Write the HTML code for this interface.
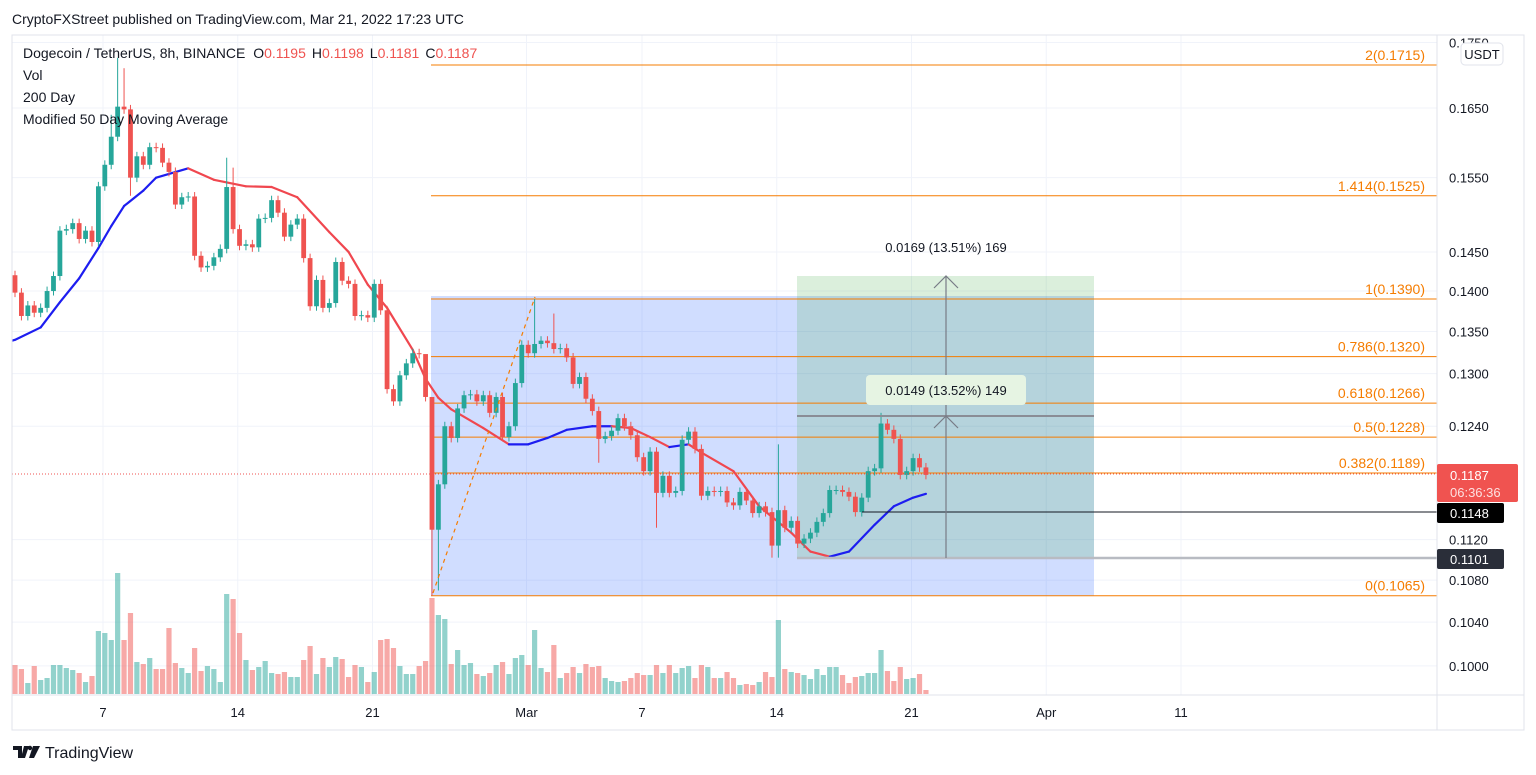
<!DOCTYPE html>
<html><head><meta charset="utf-8"><title>DOGEUSDT 8h</title>
<style>
html,body{margin:0;padding:0;background:#fff;width:1536px;height:775px;overflow:hidden}
svg{display:block;font-family:"Liberation Sans",sans-serif}
</style></head>
<body>
<svg id="chart" width="1536" height="775" viewBox="0 0 1536 775" xmlns="http://www.w3.org/2000/svg">
<rect x="0" y="0" width="1536" height="775" fill="#fff"/>
<text x="12" y="24" font-size="14" fill="#131722">CryptoFXStreet published on TradingView.com, Mar 21, 2022 17:23 UTC</text>
<g id="grid"></g>
<g id="drawings-back">
  <rect x="431" y="296" width="663" height="300" fill="#2962ff" fill-opacity="0.22"/>
  <rect x="797" y="276" width="297" height="282" fill="#4caf50" fill-opacity="0.2"/>
</g>
<g id="fib"></g>
<g id="vol"></g>
<g id="ma"></g>
<g id="candles"></g>
<g id="drawings-front">
  <line x1="433" y1="593" x2="535" y2="297" stroke="#f57c00" stroke-width="1.2" stroke-dasharray="4,4"/>
  <line x1="797" y1="416" x2="1094" y2="416" stroke="#8a8d96" stroke-width="2"/>
  <line x1="797" y1="558" x2="1437" y2="558" stroke="#b8bbc2" stroke-width="2.5"/>
  <line x1="862" y1="512" x2="1437" y2="512" stroke="#131722" stroke-width="1"/>
  <line x1="946" y1="558" x2="946" y2="276" stroke="#787b86" stroke-width="1.2"/>
  <polyline points="934,428 946,416 958,428" fill="none" stroke="#787b86" stroke-width="1.2"/>
  <polyline points="934,288 946,276 958,288" fill="none" stroke="#787b86" stroke-width="1.2"/>
  <text x="946" y="252" font-size="13" text-anchor="middle" fill="#131722">0.0169 (13.51%) 169</text>
  <rect x="866" y="375" width="160" height="30" rx="4" fill="#e6f4e3"/>
  <text x="946" y="395" font-size="13" text-anchor="middle" fill="#131722">0.0149 (13.52%) 149</text>
  <line x1="12" y1="474" x2="1437" y2="474" stroke="#ef5350" stroke-width="1" stroke-dasharray="1,2"/>
</g>
<g font-size="14" fill="#131722">
  <text x="23" y="58">Dogecoin / TetherUS, 8h, BINANCE <tspan dx="4">O</tspan><tspan fill="#ef5350">0.1195</tspan><tspan dx="6">H</tspan><tspan fill="#ef5350">0.1198</tspan><tspan dx="6">L</tspan><tspan fill="#ef5350">0.1181</tspan><tspan dx="6">C</tspan><tspan fill="#ef5350">0.1187</tspan></text>
  <text x="23" y="80">Vol</text>
  <text x="23" y="102">200 Day</text>
  <text x="23" y="124">Modified 50 Day Moving Average</text>
</g>
<g id="axes"></g>
<g>
  <path d="M13 746h9v12h-4v-8h-5z M24 746h5l-4 12h-4z" fill="#131722"/>
  <circle cx="30" cy="748" r="2.2" fill="#131722"/>
  <path d="M33 746h7l-6 12h-5z" fill="#131722"/>
  <text x="45" y="758" font-size="16" fill="#131722">TradingView</text>
</g>
</svg>
<script>
const closes = [
.1398,.1369,.1382,.1373,.1379,.1400,.1419,.1478,.1480,.1488,
.1467,.1478,.1463,.1538,.1568,.1608,.1652,.1648,.1550,.1580,
.1568,.1593,.1592,.1571,.1558,.1513,.1523,.1524,.1445,.1430,
.1432,.1443,.1454,.1537,.1480,.1458,.1460,.1456,.1494,.1495,
.1519,.1502,.1470,.1486,.1494,.1442,.1381,.1414,.1379,.1385,
.1437,.1413,.1409,.1369,.1370,.1367,.1409,.1376,.1282,.1268,
.1298,.1312,.1324,.1323,.1273,.1130,.1177,.1240,.1227,.1260,
.1275,.1276,.1268,.1275,.1255,.1273,.1228,.1240,.1289,.1334,
.1324,.1335,.1339,.1336,.1329,.1330,.1319,.1288,.1296,.1271,
.1257,.1226,.1229,.1235,.1249,.1240,.1230,.1206,.1191,.1212,
.1168,.1186,.1168,.1170,.1225,.1234,.1215,.1165,.1170,.1169,
.1170,.1158,.1155,.1169,.1160,.1147,.1154,.1148,.1114,.1150,
.1132,.1139,.1116,.1121,.1127,.1138,.1147,.1171,.1171,.1169,
.1164,.1148,.1163,.1191,.1194,.1243,.1236,.1226,.1187,.1191,
.1205,.1195,.1187];
const firstOpen = 0.1420;
const highOverrides = {15:0.1640,16:0.1726,17:0.1710,33:0.1578,34:0.1564,64:0.1300,65:0.1273,81:0.1390,84:0.1372,119:0.1220,135:0.1255};
const lowOverrides = {18:0.1525,65:0.1065,66:0.1070,91:0.1200,100:0.1132,118:0.1102,119:0.1102};
const volumes = [
29,25,11,28,14,16,29,29,26,24,21,12,18,63,61,54,121,54,81,32,
30,36,25,25,66,31,26,21,46,23,28,25,12,100,95,61,34,24,27,33,
21,20,22,17,17,34,48,20,36,27,37,35,17,29,27,12,22,54,55,46,
28,20,20,28,33,96,79,75,30,44,29,31,20,18,21,29,32,20,36,39,
29,64,26,22,49,16,21,27,21,30,27,28,16,13,12,13,16,21,19,19,
29,21,29,21,26,28,16,29,27,16,16,22,16,9,10,9,12,22,17,74,
25,22,21,19,15,25,19,27,27,19,11,17,18,21,21,44,23,13,27,15,
16,20,4];
const maIdx = [0,4,7,10,13,15,17,20,22,27,31,36,40,44,49,52,55,58,62,64,66,68,73,77,80,83,86,90,93,96,99,102,105,107,112,116,121,124,127,130,134,137,140,142];
const maVals = [.1340,.1355,.1386,.1416,.1455,.1484,.1511,.1532,.1550,.1563,.1547,.1538,.1537,.1523,.1476,.1450,.1408,.1379,.1328,.1294,.1272,.1259,.1238,.1220,.1220,.1227,.1236,.1240,.1240,.1238,.1228,.1217,.1220,.1211,.1191,.1154,.1127,.1108,.1103,.1108,.1135,.1154,.1163,.1167];
const priceTicks = [0.1750,0.1650,0.1550,0.1450,0.1400,0.1350,0.1300,0.1240,0.1120,0.1080,0.1040,0.1000];
const timeLabels = ["7","14","21","Mar","7","14","21","Apr","11"];
const timeLabelDays = [0,7,14,22,28,35,42,49,56];
const fibLevels = ["2","1.414","1","0.786","0.618","0.5","0.382","0"];
const fibPrices = [0.1715,0.1525,0.1390,0.1320,0.1266,0.1228,0.1189,0.1065];

const NS = "http://www.w3.org/2000/svg";
function yOf(p){ return 108 + Math.log(0.165/p)*1114; }
function xOf(i){ return 15 + i*6.415; }
function xDay(d){ return 103 + d*19.25; }
function mk(tag, attrs, parent){ const e=document.createElementNS(NS,tag); for(const k in attrs) e.setAttribute(k,attrs[k]); parent.appendChild(e); return e; }

const grid = document.getElementById('grid');
priceTicks.forEach(p=>{
  const l = mk('line',{x1:12,x2:1437,y1:yOf(p),y2:yOf(p),stroke:'#f0f3fa','stroke-width':1},grid);
  
  
});
timeLabelDays.forEach(d=>{
  const l = mk('line',{x1:xDay(d),x2:xDay(d),y1:35,y2:695,stroke:'#f0f3fa','stroke-width':1},grid);
  
  
});

const fib = document.getElementById('fib');
fibLevels.forEach((lv,k)=>{
  const y = yOf(fibPrices[k]);
  const l = mk('line',{x1:431,x2:1437,y1:y,y2:y,stroke:'#f57c00','stroke-width':1},fib);
  
  
  const t = mk('text',{x:1425,y:y-5,'font-size':14,'text-anchor':'end',fill:'#f57c00'},fib);
  t.textContent = lv+'('+fibPrices[k].toFixed(4)+')';
  
  
});

const opens = closes.map((c,i)=> i===0 ? firstOpen : closes[i-1]);
const vmax = Math.max(...volumes);
const vol = document.getElementById('vol');
volumes.forEach((v,i)=>{
  const up = closes[i] >= opens[i];
  const h = v/vmax*121;
  const r = mk('rect',{x:xOf(i)-2.6,y:694-h,width:5.2,height:h,fill:up?'#26a69a':'#ef5350','fill-opacity':0.5},vol);
  
  
});

const ma = document.getElementById('ma');
for(let k=1;k<maIdx.length;k++){
  const rising = maVals[k] >= maVals[k-1];
  const s = mk('line',{x1:xOf(maIdx[k-1]),y1:yOf(maVals[k-1]),x2:xOf(maIdx[k]),y2:yOf(maVals[k]),stroke:rising?'#1d1df0':'#f0474f','stroke-width':2.2,'stroke-linecap':'round'},ma);
  
  
}
const maStart = mk('line',{x1:12,y1:yOf(0.1339),x2:xOf(0),y2:yOf(maVals[0]),stroke:'#1d1df0','stroke-width':2.2},ma);



const cg = document.getElementById('candles');
closes.forEach((c,i)=>{
  const o = opens[i];
  const up = c >= o;
  const col = up ? '#26a69a' : '#ef5350';
  const hi = highOverrides[i] !== undefined ? highOverrides[i] : Math.max(o,c)*1.004;
  const lo = lowOverrides[i] !== undefined ? lowOverrides[i] : Math.min(o,c)*0.996;
  const x = xOf(i);
  const w = mk('line',{x1:x,x2:x,y1:yOf(hi),y2:yOf(lo),stroke:col,'stroke-width':1},cg);
  
  
  const yt = yOf(Math.max(o,c)), yb = yOf(Math.min(o,c));
  const b = mk('rect',{x:x-2.4,y:yt,width:4.8,height:Math.max(1,yb-yt),fill:col},cg);
  
  
});

const ax = document.getElementById('axes');
const frame = mk('rect',{x:12,y:35,width:1512,height:695,fill:'none',stroke:'#e0e3eb','stroke-width':1},ax);


const sep = mk('line',{x1:1437,x2:1437,y1:35,y2:730,stroke:'#e0e3eb'},ax);


const tsep = mk('line',{x1:12,x2:1524,y1:695,y2:695,stroke:'#e0e3eb'},ax);


priceTicks.forEach(p=>{
  const t = mk('text',{x:1449,y:yOf(p)+5,'font-size':13,fill:'#131722'},ax);
  t.textContent = p.toFixed(4);
  
  
});
timeLabels.forEach((s,k)=>{
  const t = mk('text',{x:xDay(timeLabelDays[k]),y:717,'font-size':13,'text-anchor':'middle',fill:'#131722'},ax);
  t.textContent = s;
  
  
});
const ub = mk('rect',{x:1461,y:43,width:42,height:22,rx:4,fill:'#fff',stroke:'#e0e3eb'},ax);


const ut = mk('text',{x:1482,y:59,'font-size':13,'text-anchor':'middle',fill:'#131722'},ax);
ut.textContent = 'USDT';


const lp = mk('rect',{x:1437,y:464,width:81,height:38,rx:2,fill:'#f05350'},ax);


const lpt = mk('text',{x:1450,y:480,'font-size':13,fill:'#fff'},ax);
lpt.textContent = closes[closes.length-1].toFixed(4);


const cdt = mk('text',{x:1450,y:497,'font-size':13,fill:'#fde0e0'},ax);
cdt.textContent = '06:36:36';


const b1 = mk('rect',{x:1437,y:503,width:67,height:20,rx:2,fill:'#000'},ax);


const b1t = mk('text',{x:1450,y:518,'font-size':13,fill:'#fff'},ax);
b1t.textContent = '0.1148';


const b2 = mk('rect',{x:1437,y:549,width:67,height:20,rx:2,fill:'#2a2e39'},ax);


const b2t = mk('text',{x:1450,y:564,'font-size':13,fill:'#fff'},ax);
b2t.textContent = '0.1101';


</script>
</body></html>
